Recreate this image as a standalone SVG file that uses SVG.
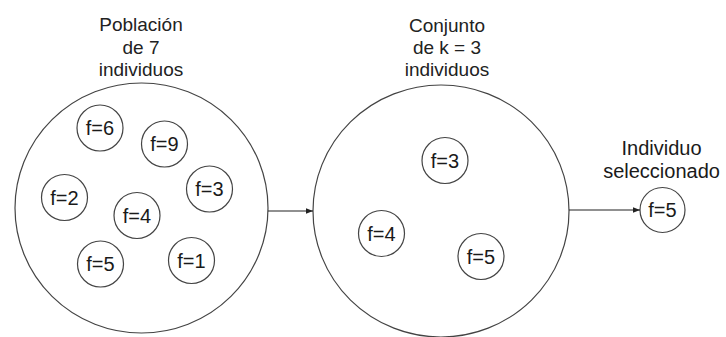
<svg xmlns="http://www.w3.org/2000/svg" width="726" height="337" viewBox="0 0 726 337">
<style>
.big{fill:none;stroke:#444;stroke-width:1.2}
.sm{fill:#fff;stroke:#444;stroke-width:1.2}
.lbl{font-family:"Liberation Sans",Arial,sans-serif;font-size:20px;fill:#1a1a1a;text-anchor:middle}
.hd{font-family:"Liberation Sans",Arial,sans-serif;font-size:19px;fill:#222;text-anchor:middle}
.cn{fill:none;stroke:#222;stroke-width:1.2}
</style>
<defs>
<marker id="ah" viewBox="0 0 10 10" refX="10" refY="5" markerWidth="7" markerHeight="7" markerUnits="userSpaceOnUse" orient="auto">
<path d="M0,1 L10,5 L0,9 Z" fill="#222"/>
</marker>
</defs>
<g id="poblacion">
<ellipse class="big" cx="141.5" cy="208" rx="126.5" ry="125"/>
<text class="hd" x="141" y="31">Población</text>
<text class="hd" x="141" y="53.5">de 7</text>
<text class="hd" x="141" y="76">individuos</text>
</g>
<g id="p-f6"><circle class="sm" cx="100" cy="128" r="23"/><text class="lbl" x="100" y="135">f=6</text></g>
<g id="p-f9"><circle class="sm" cx="164.5" cy="144" r="23"/><text class="lbl" x="164.5" y="151">f=9</text></g>
<g id="p-f2"><circle class="sm" cx="64.5" cy="197.5" r="23"/><text class="lbl" x="64.5" y="204.5">f=2</text></g>
<g id="p-f3"><circle class="sm" cx="209.5" cy="189" r="23"/><text class="lbl" x="209.5" y="196">f=3</text></g>
<g id="p-f4"><circle class="sm" cx="137" cy="215.5" r="23"/><text class="lbl" x="137" y="222.5">f=4</text></g>
<g id="p-f5"><circle class="sm" cx="100.5" cy="264" r="23"/><text class="lbl" x="100.5" y="271">f=5</text></g>
<g id="p-f1"><circle class="sm" cx="191.5" cy="260.5" r="23"/><text class="lbl" x="191.5" y="267.5">f=1</text></g>
<g id="conjunto">
<ellipse class="big" cx="441" cy="211" rx="128" ry="126"/>
<text class="hd" x="447" y="31.5">Conjunto</text>
<text class="hd" x="447" y="53.5">de k = 3</text>
<text class="hd" x="447" y="76">individuos</text>
</g>
<g id="c-f3"><circle class="sm" cx="445" cy="160.5" r="23"/><text class="lbl" x="445" y="167.5">f=3</text></g>
<g id="c-f4"><circle class="sm" cx="381.5" cy="233.5" r="23"/><text class="lbl" x="381.5" y="240.5">f=4</text></g>
<g id="c-f5"><circle class="sm" cx="481" cy="256.5" r="23"/><text class="lbl" x="481" y="263.5">f=5</text></g>
<g id="seleccionado">
<circle class="sm" cx="662.5" cy="210" r="22.5"/>
<text class="lbl" x="662.5" y="217">f=5</text>
<text class="lbl" x="661.5" y="155">Individuo</text>
<text class="lbl" x="661.5" y="178">seleccionado</text>
</g>
<g id="connectors">
<line class="cn" x1="268" y1="211" x2="313" y2="211" marker-end="url(#ah)"/>
<line class="cn" x1="569" y1="210" x2="640" y2="210" marker-end="url(#ah)"/>
</g>
</svg>
